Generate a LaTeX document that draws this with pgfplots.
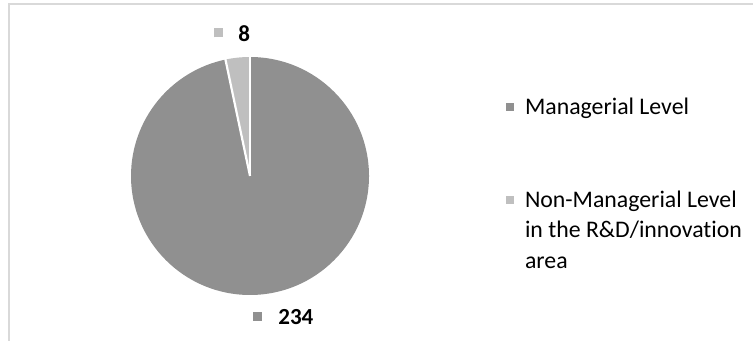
\documentclass[border=0pt]{standalone}
\usepackage{pgfplots}
\pgfplotsset{compat=1.18}
\usepackage{pgfplotstable}
\usepackage{fontspec}
\setmainfont{Carlito}[Ligatures={NoCommon}]
\definecolor{darkg}{HTML}{909090}
\definecolor{lightg}{HTML}{BFBFBF}
\definecolor{framec}{HTML}{D9D9D9}
\pgfplotstableread{
label value
Managerial 234
NonManagerial 8
}\pietable
\begin{document}
\begin{tikzpicture}
\pgfplotstablegetelem{0}{value}\of\pietable \let\va\pgfplotsretval
\pgfplotstablegetelem{1}{value}\of\pietable \let\vb\pgfplotsretval
\pgfmathsetmacro{\tot}{\va+\vb}
\pgfmathsetmacro{\frA}{\va/\tot}
\pgfmathsetmacro{\angA}{90-360*\frA}
\def\R{59.5pt}
\begin{axis}[
  x=0.5pt, y=0.5pt, xmin=0, xmax=753, ymin=0, ymax=341,
  hide axis,
  legend style={draw=none, fill=none, inner sep=0pt, outer sep=0pt,
    at={(axis cs:506,243)}, anchor=north west,
    font=\fontsize{11.9}{15.25}\selectfont, row sep=36.5pt,
    nodes={align=left, inner sep=0pt, outer sep=0pt},
    cells={anchor=north west},
    /tikz/every odd column/.style={column sep=5.5pt}},
  legend image code/.code={\fill[#1] (0pt,-6.7pt) rectangle (4pt,-2.7pt);},
]
\addlegendimage{fill=darkg, draw=none}
\addlegendentry{Managerial Level}
\addlegendimage{fill=lightg, draw=none}
\addlegendentry{Non-Managerial Level\\in the R\&D/innovation\\area}
\fill[darkg] (axis cs:250,165) -- ++(90:\R) arc[start angle=90, end angle=\angA, radius=\R] -- cycle;
\fill[lightg] (axis cs:250,165) -- ++(\angA:\R) arc[start angle=\angA, end angle=-270, radius=\R] -- cycle;
\draw[white, line width=1.1pt] (axis cs:250,165) -- ++(90:\R+1pt);
\draw[white, line width=1.1pt] (axis cs:250,165) -- ++(\angA:\R+1pt);
\node[anchor=base west, inner sep=0pt, font=\fontsize{11.5}{14}\selectfont\bfseries] at (axis cs:214,299)
  {\textcolor{lightg}{\rule[2.3pt]{4.5pt}{4.5pt}}\hspace{7.5pt}8};
\node[anchor=base west, inner sep=0pt, font=\fontsize{11.5}{14}\selectfont\bfseries] at (axis cs:253,16)
  {\textcolor{darkg}{\rule[2pt]{4.5pt}{4.5pt}}\hspace{8pt}234};
\coordinate (SW) at (axis cs:0,0);
\coordinate (NE) at (axis cs:753,341);
\coordinate (FA) at (axis cs:9,-20);
\coordinate (FB) at (axis cs:9,337);
\coordinate (FC) at (axis cs:800,337);
\end{axis}
\draw[framec, line width=0.75pt] (FA) -- (FB) -- (FC);
\pgfresetboundingbox
\useasboundingbox (SW) rectangle (NE);
\end{tikzpicture}
\end{document}
